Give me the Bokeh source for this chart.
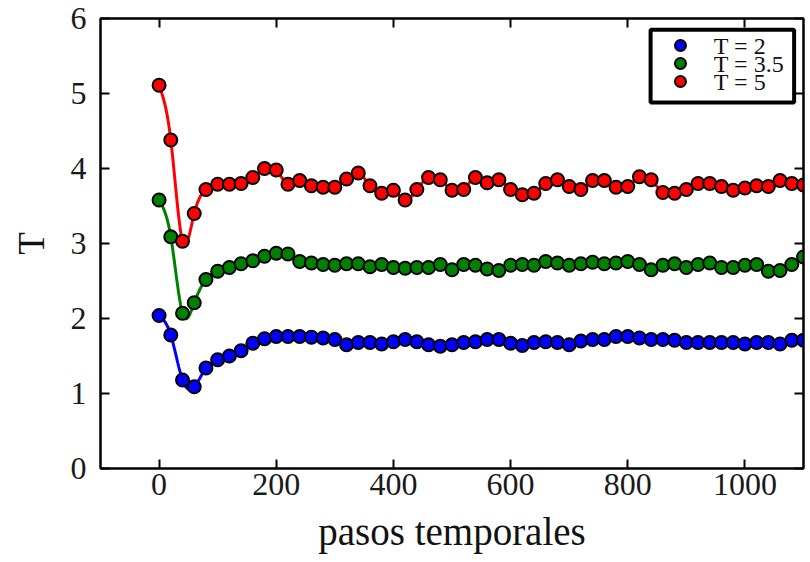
import numpy as np
from bokeh.plotting import figure
from bokeh.models import LinearAxis, FixedTicker, Range1d, Label, BoxAnnotation
from bokeh.embed import file_html
from bokeh.resources import INLINE

# ---------------- data ----------------
steps = [0, 20, 40, 60, 80, 100, 120, 140, 160, 180, 200, 220, 240, 260, 280,
         300, 320, 340, 360, 380, 400, 420, 440, 460, 480, 500, 520, 540, 560,
         580, 600, 620, 640, 660, 680, 700, 720, 740, 760, 780, 800, 820, 840,
         860, 880, 900, 920, 940, 960, 980, 1000, 1020, 1040, 1060, 1080, 1100]

t_2 = [2.04, 1.78, 1.18, 1.09, 1.34, 1.45, 1.50, 1.57, 1.67, 1.73, 1.76, 1.76,
       1.76, 1.75, 1.74, 1.72, 1.65, 1.68, 1.68, 1.66, 1.69, 1.72, 1.69, 1.65,
       1.63, 1.65, 1.68, 1.69, 1.72, 1.72, 1.67, 1.64, 1.68, 1.69, 1.68, 1.65,
       1.70, 1.72, 1.72, 1.76, 1.76, 1.74, 1.72, 1.72, 1.71, 1.68, 1.68, 1.68,
       1.68, 1.68, 1.66, 1.68, 1.68, 1.66, 1.71, 1.71]

t_35 = [3.58, 3.09, 2.07, 2.21, 2.52, 2.63, 2.68, 2.73, 2.77, 2.83, 2.87, 2.86,
        2.76, 2.74, 2.72, 2.71, 2.73, 2.73, 2.69, 2.72, 2.68, 2.67, 2.68, 2.68,
        2.72, 2.65, 2.72, 2.71, 2.66, 2.64, 2.71, 2.72, 2.71, 2.76, 2.74, 2.71,
        2.73, 2.75, 2.73, 2.74, 2.76, 2.72, 2.65, 2.71, 2.73, 2.68, 2.72, 2.74,
        2.68, 2.68, 2.71, 2.72, 2.63, 2.64, 2.72, 2.82]

t_5 = [5.11, 4.38, 3.03, 3.40, 3.72, 3.79, 3.79, 3.80, 3.88, 4.00, 3.98, 3.79,
       3.84, 3.77, 3.75, 3.75, 3.86, 3.94, 3.77, 3.67, 3.71, 3.58, 3.72, 3.88,
       3.85, 3.71, 3.72, 3.88, 3.81, 3.85, 3.72, 3.65, 3.67, 3.80, 3.85, 3.76,
       3.72, 3.84, 3.84, 3.75, 3.76, 3.89, 3.85, 3.68, 3.67, 3.72, 3.80, 3.80,
       3.76, 3.71, 3.74, 3.77, 3.76, 3.84, 3.80, 3.78]

series_labels = ["T = 2", "T = 3.5", "T = 5"]
series_colors = ["#0000ff", "#008000", "#ff0000"]
x_ticks = [0, 200, 400, 600, 800, 1000]
y_ticks = [0, 1, 2, 3, 4, 5, 6]

FONT = "Liberation Serif"


def smooth(x, y, per=12):
    """Natural cubic spline through the points (for drawing the curve)."""
    x = np.asarray(x, float)
    y = np.asarray(y, float)
    n = len(x)
    h = np.diff(x)
    A = np.zeros((n, n))
    r = np.zeros(n)
    A[0, 0] = 1.0
    A[-1, -1] = 1.0
    for i in range(1, n - 1):
        A[i, i - 1] = h[i - 1]
        A[i, i] = 2 * (h[i - 1] + h[i])
        A[i, i + 1] = h[i]
        r[i] = 3 * ((y[i + 1] - y[i]) / h[i] - (y[i] - y[i - 1]) / h[i - 1])
    c = np.linalg.solve(A, r)
    b = (y[1:] - y[:-1]) / h - h * (2 * c[:-1] + c[1:]) / 3
    d = (c[1:] - c[:-1]) / (3 * h)
    xs, ys = [], []
    for i in range(n - 1):
        t = np.linspace(0, h[i], per, endpoint=False)
        xs.append(x[i] + t)
        ys.append(y[i] + b[i] * t + c[i] * t ** 2 + d[i] * t ** 3)
    xs.append([x[-1]])
    ys.append([y[-1]])
    return np.concatenate(xs), np.concatenate(ys)


p = figure(width=808, height=560, output_backend="svg", toolbar_location=None,
           x_range=Range1d(-100, 1100), y_range=Range1d(0, 6),
           min_border_left=100, min_border_right=5, min_border_top=18,
           min_border_bottom=92)
p.grid.visible = False
p.outline_line_color = "black"
p.outline_line_width = 2
p.background_fill_color = "white"
p.border_fill_color = "white"

for ys, col in zip([t_2, t_35, t_5], series_colors):
    sx, sy = smooth(steps, ys)
    p.line(sx, sy, line_color=col, line_width=3)
    p.scatter(steps, ys, size=13, fill_color=col, line_color="black",
              line_width=2)


def style_axis(ax, ticks, show_labels):
    ax.ticker = FixedTicker(ticks=ticks)
    ax.major_tick_in = 9
    ax.major_tick_out = 0
    ax.major_tick_line_width = 2
    ax.major_tick_line_color = "black"
    ax.minor_tick_line_color = None
    ax.axis_line_color = "black"
    ax.axis_line_width = 2
    if show_labels:
        ax.major_label_text_font = FONT
        ax.major_label_text_font_size = "32px"
        ax.major_label_text_color = "#1a1a1a"
    else:
        ax.major_label_text_font_size = "1px"
        ax.major_label_text_color = None
        ax.major_label_standoff = 0


xa = p.xaxis[0]
ya = p.yaxis[0]
style_axis(xa, x_ticks, True)
style_axis(ya, y_ticks, True)
xa.major_label_standoff = 5
ya.major_label_standoff = 14
xa.axis_label = "pasos temporales"
xa.axis_label_text_font = FONT
xa.axis_label_text_font_size = "39px"
xa.axis_label_text_font_style = "normal"
xa.axis_label_text_color = "#111111"
xa.axis_label_standoff = 12
ya.axis_label = "T"
ya.axis_label_text_font = FONT
ya.axis_label_text_font_size = "37px"
ya.axis_label_text_font_style = "normal"
ya.axis_label_text_color = "#111111"
ya.axis_label_standoff = 16

top = LinearAxis()
style_axis(top, x_ticks, False)
p.add_layout(top, "above")
right = LinearAxis()
style_axis(right, y_ticks, False)
p.add_layout(right, "right")

# ---- legend (drawn by hand so the rows can sit as tightly as in the original)
box = BoxAnnotation(left=839, right=1084, top=5.85, bottom=4.88,
                    fill_color="white", fill_alpha=1.0,
                    line_color="black", line_width=4, line_alpha=1.0,
                    level="annotation")
p.add_layout(box)

legend_marker_x = 890
legend_row_y = [5.64, 5.40, 5.16]
legend_text_x = 947
mk = p.scatter([legend_marker_x] * 3, legend_row_y, size=11,
               fill_color=series_colors, line_color="black", line_width=2)
mk.level = "overlay"
for lab, ly in zip(series_labels, legend_row_y):
    lb = Label(x=legend_text_x, y=ly, text=lab, text_font=FONT,
               text_font_size="24px", text_color="#111111",
               text_baseline="middle", text_align="left")
    lb.level = "overlay"
    p.add_layout(lb)

open("out.html", "w").write(file_html(p, INLINE))
